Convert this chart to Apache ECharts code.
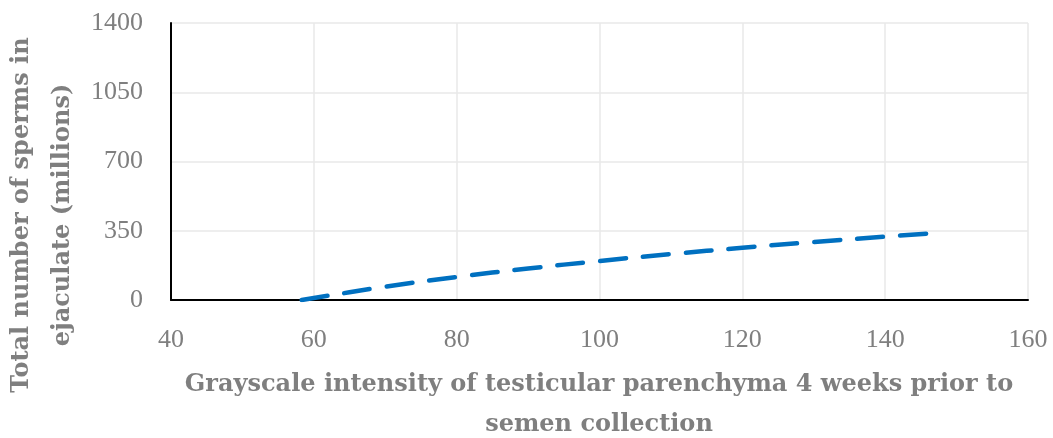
<!DOCTYPE html>
<html><head><meta charset="utf-8">
<script src="https://cdn.jsdelivr.net/npm/echarts@6/dist/echarts.min.js"></script>
<style>html,body{margin:0;padding:0;background:#fff}#c{width:1053px;height:438px}</style>
</head><body><div id="c"></div>
<script>
const xValues = [58.3, 60, 70, 80, 90, 100, 110, 120, 130, 140, 146.5];
const yValues = [0, 10, 67, 116, 159, 197, 232, 264, 293, 320, 337];
const xTicks = [40, 60, 80, 100, 120, 140, 160];
const yTicks = [0, 350, 700, 1050, 1400];
const xTitle = 'Grayscale intensity of testicular parenchyma 4 weeks prior to\nsemen collection';
const yTitle = 'Total number of sperms in\nejaculate (millions)';

const FONT = '"Liberation Serif", "DejaVu Serif", serif';
const TFONT = '"DejaVu Serif", "Liberation Serif", serif';
const GRAY = '#7f7f7f';
const chart = echarts.init(document.getElementById('c'));
chart.setOption({
  animation: false,
  grid: {left: 171, right: 25, top: 23, bottom: 138, containLabel: false},
  xAxis: {
    type: 'value', min: xTicks[0], max: xTicks[xTicks.length-1], interval: 20,
    axisLine: {lineStyle: {color: '#000', width: 2}},
    axisTick: {show: false},
    splitLine: {lineStyle: {color: '#e8e8e8', width: 1.5}},
    axisLabel: {color: GRAY, fontFamily: FONT, fontSize: 26, margin: 27, formatter: v => String(v)}
  },
  yAxis: {
    type: 'value', min: yTicks[0], max: yTicks[yTicks.length-1], interval: 350,
    axisLine: {show: true, lineStyle: {color: '#000', width: 2}},
    axisTick: {show: false},
    splitLine: {lineStyle: {color: '#e8e8e8', width: 1.5}},
    axisLabel: {color: GRAY, fontFamily: FONT, fontSize: 26, margin: 28, formatter: v => String(v)}
  },
  graphic: [
    {type: 'text', x: 599, y: 405, style: {text: xTitle, fill: GRAY, font: 'bold 24px ' + TFONT, align: 'center', verticalAlign: 'middle', lineHeight: 40}},
    {type: 'text', x: 42, y: 215, rotation: Math.PI/2, style: {text: yTitle, fill: GRAY, font: 'bold 24px ' + TFONT, align: 'center', verticalAlign: 'middle', lineHeight: 41}}
  ],
  series: [{
    type: 'line', smooth: true, showSymbol: false,
    data: xValues.map((x, i) => [x, yValues[i]]),
    lineStyle: {color: '#0070c0', width: 4.5, type: [26, 17], cap: 'round'}
  }]
});
</script></body></html>
